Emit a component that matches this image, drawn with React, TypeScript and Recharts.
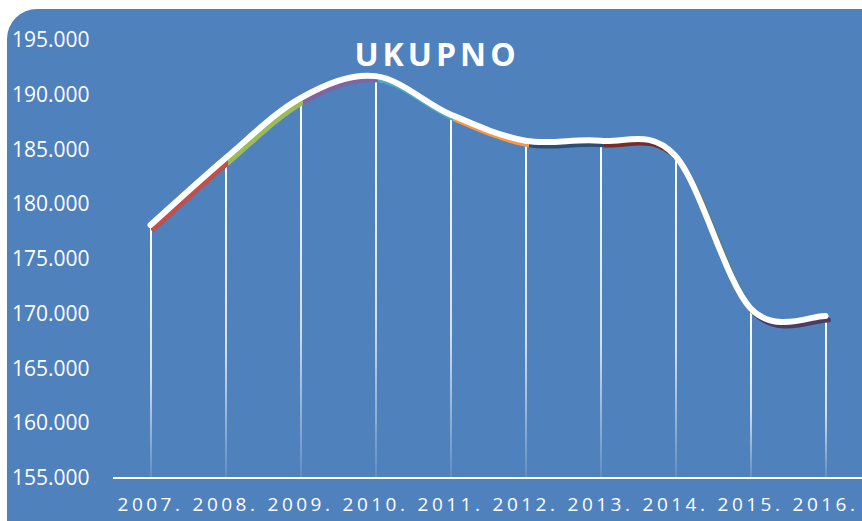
import React from 'react';
import { ComposedChart, Line, Bar, XAxis, YAxis } from 'recharts';

const YEARS = ['2007.', '2008.', '2009.', '2010.', '2011.', '2012.', '2013.', '2014.', '2015.', '2016.'];
const UKUPNO = [178.1, 184.2, 189.7, 191.7, 188.2, 185.8, 185.8, 184.4, 170.5, 169.8];
const Y_TICKS = [155, 160, 165, 170, 175, 180, 185, 190, 195];
const SEGMENT_COLORS = ['#c0504d', '#9bbb59', '#8064a2', '#4bacc6', '#f79646', '#2c4d75', '#772c2a', '#5f7530', '#4d3b62'];

const BG = '#4f81bd';
const FONT = '"Open Sans", "Liberation Sans", sans-serif';

const data = YEARS.map((y, i) => ({ year: y, value: UKUPNO[i] }));

// Excel-like smoothed line (uniform Catmull-Rom as cubic beziers)
function excelSmooth(context: any) {
  let pts: number[][] = [];
  return {
    areaStart() {},
    areaEnd() {},
    lineStart() { pts = []; },
    point(x: number, y: number) { pts.push([+x, +y]); },
    lineEnd() {
      if (!pts.length) return;
      context.moveTo(pts[0][0], pts[0][1]);
      for (let i = 0; i < pts.length - 1; i++) {
        const p0 = pts[i - 1] || pts[i];
        const p1 = pts[i];
        const p2 = pts[i + 1];
        const p3 = pts[i + 2] || p2;
        context.bezierCurveTo(
          p1[0] + (p2[0] - p0[0]) / 6, p1[1] + (p2[1] - p0[1]) / 6,
          p2[0] - (p3[0] - p1[0]) / 6, p2[1] - (p3[1] - p1[1]) / 6,
          p2[0], p2[1],
        );
      }
    },
  };
}

const fmtThousands = (v: number) => `${v}.000`;

function YTick({ y, payload }: any) {
  return (
    <text x={12} y={y} dy={7} fill="#fff" fontSize={21} fontFamily={FONT} textAnchor="start">
      {fmtThousands(payload.value)}
    </text>
  );
}

export default function App() {
  const n = SEGMENT_COLORS.length;
  return (
    <div style={{ position: 'relative', width: 862, height: 521, overflow: 'hidden', background: '#fff' }}>
      <style>{`
        body { margin: 0; }
        .shadow-line { transform: translate(3px, 4px); }
        .recharts-line path { stroke-linecap: round; }
      `}</style>
      <div style={{ position: 'absolute', left: 7, top: 9, width: 900, height: 560, background: BG, borderRadius: 30 }} />
      <div style={{ position: 'absolute', left: 0, top: 30, width: 874, textAlign: 'center', color: '#fff', fontFamily: FONT, fontWeight: 700, fontSize: 32, letterSpacing: 4, lineHeight: '48px' }}>
        UKUPNO
      </div>
      <div style={{ position: 'absolute', left: 0, top: 0 }}>
        <ComposedChart width={870} height={521} data={data} margin={{ top: 40, right: 7, bottom: 13, left: 13 }}>
          <defs>
            <linearGradient id="segments" x1="0" y1="0" x2="1" y2="0">
              {SEGMENT_COLORS.flatMap((c, i) => [
                <stop key={`a${i}`} offset={i / n} stopColor={c} />,
                <stop key={`b${i}`} offset={(i + 1) / n} stopColor={c} />,
              ])}
            </linearGradient>
            <linearGradient id="drop" x1="0" y1="0" x2="0" y2="1">
              <stop offset="0" stopColor="#fff" stopOpacity={1} />
              <stop offset="0.6" stopColor="#fff" stopOpacity={0.75} />
              <stop offset="1" stopColor="#fff" stopOpacity={0.1} />
            </linearGradient>
          </defs>
          <XAxis
            dataKey="year"
            height={30}
            axisLine={{ stroke: '#fff', strokeWidth: 2 }}
            tickLine={false}
            tick={{ fill: '#fff', fontSize: 19, fontFamily: FONT, letterSpacing: 3.5 }}
            dy={12}
          />
          <YAxis
            domain={[155, 195]}
            ticks={Y_TICKS}
            width={100}
            axisLine={false}
            tickLine={false}
            tick={<YTick />}
            allowDataOverflow
          />
          <Bar dataKey="value" barSize={2} fill="url(#drop)" isAnimationActive={false} />
          <Line
            className="shadow-line"
            dataKey="value"
            type={excelSmooth as any}
            stroke="url(#segments)"
            strokeWidth={5}
            dot={false}
            activeDot={false}
            isAnimationActive={false}
          />
          <Line
            dataKey="value"
            type={excelSmooth as any}
            stroke="#fff"
            strokeWidth={6}
            dot={false}
            activeDot={false}
            isAnimationActive={false}
          />
        </ComposedChart>
      </div>
    </div>
  );
}
